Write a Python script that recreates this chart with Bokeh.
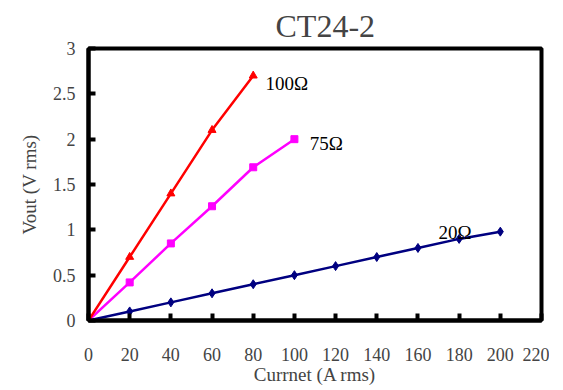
from bokeh.plotting import figure
from bokeh.models import Range1d, FixedTicker
from bokeh.core.properties import value
from bokeh.embed import file_html
from bokeh.resources import INLINE

x_100 = [0, 20, 40, 60, 80]
y_100 = [0, 0.70, 1.40, 2.10, 2.70]
x_75 = [0, 20, 40, 60, 80, 100]
y_75 = [0, 0.42, 0.85, 1.26, 1.69, 2.00]
x_20 = [0, 20, 40, 60, 80, 100, 120, 140, 160, 180, 200]
y_20 = [0, 0.10, 0.20, 0.30, 0.40, 0.50, 0.60, 0.70, 0.80, 0.90, 0.98]
series_labels = ["100\u03a9", "75\u03a9", "20\u03a9"]
x_ticks = [0, 20, 40, 60, 80, 100, 120, 140, 160, 180, 200, 220]
y_ticks = [0, 0.5, 1, 1.5, 2, 2.5, 3]

FONT = "Liberation Serif"

p = figure(width=549, height=388, output_backend="svg", toolbar_location=None,
           x_range=Range1d(0, 220), y_range=Range1d(0, 3),
           min_border_left=88, min_border_right=8, min_border_top=48, min_border_bottom=68,
           title="CT24-2")
p.title.text_font = FONT
p.title.text_font_size = "32px"
p.title.text_font_style = "normal"
p.title.align = "left"
p.title.offset = 187
p.title.standoff = 9

p.xgrid.visible = False
p.ygrid.visible = False
p.outline_line_color = "black"
p.outline_line_width = 4
p.background_fill_color = "white"
p.border_fill_color = "white"

for ax in (p.xaxis[0], p.yaxis[0]):
    ax.axis_line_width = 4
    ax.axis_line_color = "black"
    ax.major_tick_in = 7
    ax.major_tick_out = 0
    ax.major_tick_line_width = 4
    ax.minor_tick_line_color = None
    ax.major_label_text_font = FONT
    ax.major_label_text_font_size = "18px"
    ax.axis_label_text_font = FONT
    ax.axis_label_text_font_size = "19px"
    ax.axis_label_text_font_style = "normal"

p.xaxis.ticker = FixedTicker(ticks=x_ticks)
p.yaxis.ticker = FixedTicker(ticks=y_ticks)
p.xaxis.major_label_standoff = 27
p.yaxis.major_label_standoff = 13
p.xaxis.axis_label = "Currnet (A rms)"
p.yaxis.axis_label = "Vout (V rms)"
p.xaxis.axis_label_standoff = 0
p.yaxis.axis_label_standoff = 10

p.line(x_20, y_20, line_color="#000080", line_width=2.5)
p.scatter(x_20, y_20, marker="diamond", size=9, color="#000080")
p.line(x_75, y_75, line_color="#FF00FF", line_width=2.5)
p.scatter(x_75, y_75, marker="square", size=7, color="#FF00FF")
p.line(x_100, y_100, line_color="#FF0000", line_width=2.5)
p.scatter(x_100, y_100, marker="triangle", size=8, color="#FF0000")

p.text(x=[86, 107.5, 170], y=[2.61, 1.95, 0.97], text=series_labels,
       text_font=value(FONT), text_font_size="19px",
       text_baseline="middle", text_align="left", text_color="black")

open("out.html", "w").write(file_html(p, INLINE))
